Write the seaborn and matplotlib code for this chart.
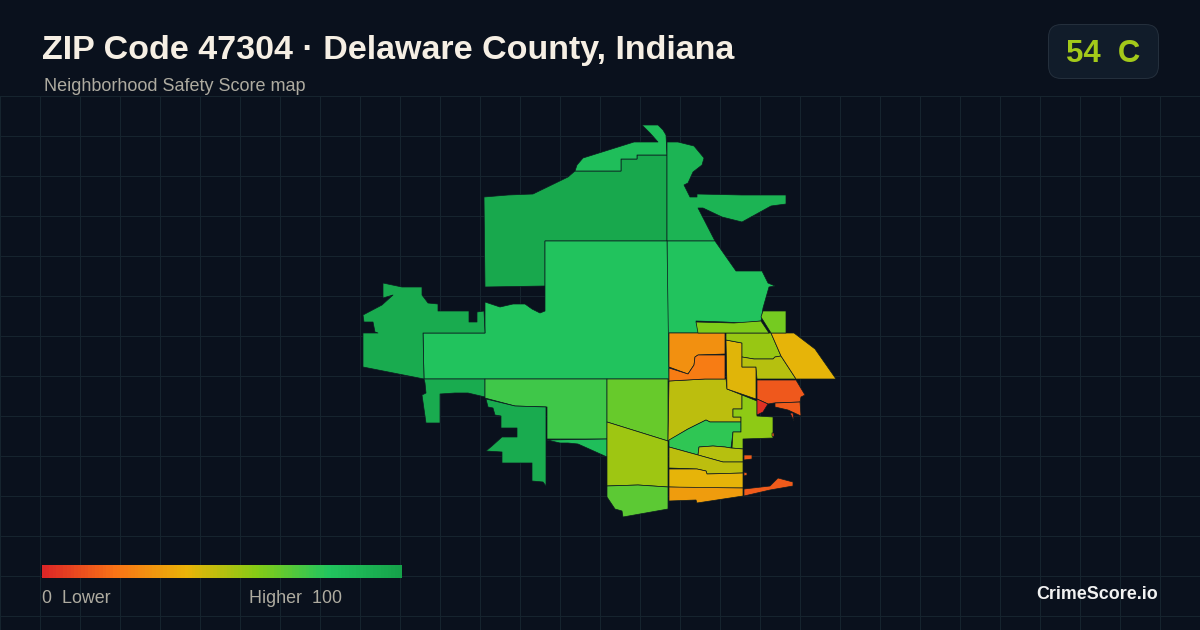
import matplotlib
matplotlib.use("Agg")
import matplotlib.pyplot as plt
from matplotlib.patches import FancyBboxPatch
import numpy as np
import seaborn as sns

# ---- data: tract outlines (map x, map y) and safety scores ----
t_north = [(484,197),(508,195),(533,194),(568,177),(575,171),(621,171),(621,159),(637,159),(637,155),(667,155),(667,241),(545,241),(545,286),(485,287)]
t_north_strip = [(575,171),(577,165),(583,158),(634,142),(658,142),(650,133),(642,125),(658,125),(663,130),(666,135),(667,155),(637,155),(637,159),(621,159),(621,171)]
t_northeast = [(667,142),(678,142),(694,146),(704,158),(702,165),(693,172),(688,183),(684,185),(690,197),(697,197),(697,194),(742,195),(786,195),(786,204),(771,206),(742,222),(730,219),(722,217),(703,208),(698,208),(715,241),(667,241)]
t_east = [(667,241),(715,241),(736,271),(762,271),(768,283),(775,286),(769,287),(763,308),(761,321),(742,323),(725,322),(696,321),(699,333),(669,333),(669,381),(667,381)]
t_central = [(423,333),(485,333),(485,302),(500,307),(513,304),(525,304),(532,309),(540,313),(545,311),(545,241),(667,241),(669,379),(424,379)]
t_west = [(383,283),(402,287),(422,287),(422,295),(428,303),(438,304),(438,311),(469,311),(469,322),(477,322),(477,312),(484,311),(485,333),(423,333),(424,379),(363,367),(363,333),(378,333),(375,332),(373,322),(364,322),(363,315),(382,305),(393,295),(383,298)]
t_southwest = [(424,379),(485,379),(485,397),(468,393),(455,393),(440,394),(440,423),(426,423),(422,395),(426,393),(425,383)]
t_south_a = [(485,379),(607,379),(607,439),(547,439),(547,407),(515,406),(485,398)]
t_south_b = [(486,399),(515,406),(546,407),(546,486),(543,482),(532,481),(532,463),(502,463),(502,452),(486,451),(492,446),(502,437),(517,437),(517,428),(501,428),(501,416),(495,415),(493,408),(488,407)]
t_south_strip = [(547,440),(607,439),(607,457),(587,448),(578,444),(568,443),(560,443)]
t_mid_a = [(607,379),(668,379),(668,441),(607,422)]
t_mid_b = [(607,422),(668,441),(668,487),(638,485),(607,486)]
t_mid_c = [(607,486),(638,485),(668,487),(668,509),(623,517),(622,511),(615,509),(607,497)]
t_core_a = [(669,381),(705,379),(726,379),(727,389),(742,395),(742,409),(733,409),(733,417),(741,417),(741,422),(710,422),(706,420),(688,429),(668,441)]
t_core_b = [(669,440),(688,429),(706,420),(710,422),(741,422),(741,432),(733,432),(731,448),(725,447),(713,446),(699,447),(698,455),(669,447)]
t_core_c = [(742,395),(757,401),(757,416),(773,417),(773,438),(743,439),(743,449),(732,448),(733,432),(741,432),(741,417),(733,417),(733,409),(742,409)]
t_core_d = [(699,447),(713,446),(725,447),(731,448),(743,449),(743,462),(723,462),(698,455)]
t_core_e = [(669,447),(698,455),(723,462),(743,462),(743,473),(707,474),(706,471),(697,469),(669,468)]
t_core_f = [(669,469),(697,469),(706,471),(707,474),(743,473),(743,488),(699,488),(669,487)]
t_core_g = [(669,487),(743,488),(743,496),(697,503),(696,500),(669,501)]
t_spit = [(744,489),(770,486),(778,478),(793,482),(793,486),(770,490),(744,496)]
t_speck_a = [(744,455),(752,455),(752,459),(744,460)]
t_speck_b = [(744,472),(747,473),(747,475),(744,476)]
t_speck_c = [(772,433),(774,433),(774,437),(772,436)]
t_upper_a = [(669,333),(725,333),(725,354),(698,355),(695,357),(694,365),(688,374),(669,367)]
t_upper_b = [(669,368),(688,374),(694,365),(695,357),(698,355),(725,355),(725,379),(705,379),(669,381)]
t_upper_c = [(726,340),(742,343),(742,367),(756,367),(756,399),(727,389)]
t_upper_d = [(726,333),(771,333),(781,356),(775,357),(773,359),(754,359),(742,357),(742,343),(726,340)]
t_upper_e = [(742,357),(754,359),(773,359),(775,357),(781,356),(796,379),(757,379),(756,367),(742,367)]
t_upper_f = [(771,333),(794,333),(815,349),(836,379),(796,379),(781,356)]
t_red_a = [(757,380),(796,380),(805,395),(801,397),(800,402),(774,403),(768,404),(757,399)]
t_red_b = [(757,399),(768,404),(763,412),(757,415)]
t_red_c = [(775,403),(800,402),(801,416),(788,410),(775,407)]
t_red_d = [(790,413),(793,413),(794,421)]
t_top_a = [(763,311),(786,311),(786,333),(771,333),(761,317)]
t_top_b = [(696,322),(734,323),(761,321),(769,333),(698,333)]

tracts = [t_north, t_north_strip, t_northeast, t_east, t_central, t_west, t_southwest,
          t_south_a, t_south_b, t_south_strip, t_mid_a, t_mid_b, t_mid_c, t_core_a,
          t_core_b, t_core_c, t_core_d, t_core_e, t_core_f, t_core_g, t_spit, t_speck_a,
          t_speck_b, t_speck_c, t_upper_a, t_upper_b, t_upper_c, t_upper_d, t_upper_e,
          t_upper_f, t_red_a, t_red_b, t_red_c, t_red_d, t_top_a, t_top_b]
scores = [97, 84, 90, 81, 81, 95, 95,
          74, 95, 84, 66, 55, 68, 49,
          77, 58, 50, 49, 41, 33, 14, 14,
          14, 14, 29, 23, 42, 56, 50,
          41, 13, 3, 14, 8, 63, 61]

title_text = "ZIP Code 47304 · Delaware County, Indiana"
subtitle_text = "Neighborhood Safety Score map"
badge_score = 54
badge_grade = "C"
legend_ramp = [list(range(0, 101))]
ramp_colors = ["#dc2626", "#f97316", "#eab308", "#84cc16", "#22c55e", "#16a34a"]

BG = "#0a111d"
GRID = "#16242e"
EDGE = "#0c1a20"

sns.set_theme(style="dark", rc={"figure.facecolor": BG, "axes.facecolor": BG})
plt.rcParams["font.family"] = ["Liberation Sans", "DejaVu Sans"]
cmap = sns.blend_palette(ramp_colors, as_cmap=True)

fig = plt.figure(figsize=(12, 6.3), dpi=100, facecolor=BG)
ax = fig.add_axes([0, 0, 1, 1])
ax.set_xlim(0, 1200)
ax.set_ylim(630, 0)
ax.axis("off")

for x in range(0, 1201, 40):
    ax.plot([x, x], [96, 630], color=GRID, lw=0.72, zorder=1)
for y in range(96, 631, 40):
    ax.plot([0, 1200], [y, y], color=GRID, lw=0.72, zorder=1)

for outline, score in zip(tracts, scores):
    xs, ys = zip(*outline)
    ax.fill(xs, ys, facecolor=cmap(score / 100), edgecolor=EDGE, lw=0.5,
            joinstyle="round", zorder=2)

ax.text(42, 59, title_text, color="#f6efe4", fontsize=24.47, fontweight="bold", va="baseline")
ax.text(44, 91, subtitle_text, color="#aeaba0", fontsize=12.95, va="baseline")

badge = FancyBboxPatch((1048.5, 24.5), 110, 54, boxstyle="round,pad=0,rounding_size=13",
                       facecolor="#111c2a", edgecolor="#242f3c", lw=0.72, zorder=3)
ax.add_patch(badge)
ax.text(1066, 62, f"{badge_score}  {badge_grade}", color="#a3c91a", fontsize=22.4,
        fontweight="bold", va="baseline", zorder=4)

cax = fig.add_axes([42 / 1200, 1 - 578 / 630, 360 / 1200, 13 / 630])
sns.heatmap(legend_ramp, ax=cax, cmap=cmap, cbar=False, xticklabels=False, yticklabels=False,
            vmin=0, vmax=100, linewidths=0, rasterized=True)
cax.set_axis_off()

ax.text(42, 603, "0  Lower", color="#aeaba0", fontsize=12.9, va="baseline")
ax.text(249, 603, "Higher  100", color="#aeaba0", fontsize=12.9, va="baseline")
ax.text(1158, 599, "CrimeScore.io", color="#f2f2f2", fontsize=12.9, fontweight="bold",
        ha="right", va="baseline")

fig.savefig("out.png", dpi=100, facecolor=BG)
